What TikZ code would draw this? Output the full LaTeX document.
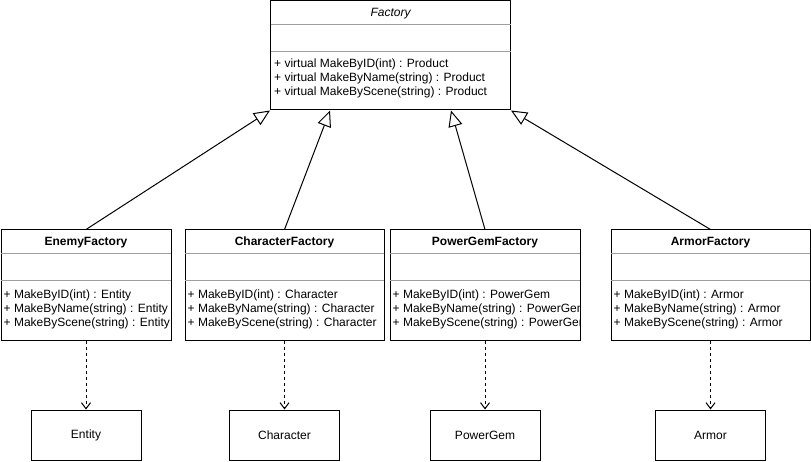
\documentclass[tikz,border=0pt]{standalone}
\usepackage{fontspec}
\setmainfont{Liberation Sans}
\usetikzlibrary{arrows.meta}
\newcommand{\umlfont}{\fontsize{12}{14}\selectfont}
\tikzset{>=stealth,
    class/.style={draw, line width=1pt, minimum height=110pt, inner sep=0pt},
    obj/.style={draw, line width=1pt, minimum width=110pt, minimum height=50pt},
    sep/.style={gray!75, line width=1pt},
    title/.style={anchor=base, inner sep=0pt, font=\umlfont\bfseries},
    ops/.style={anchor=north west, align=left, inner sep=0pt},
    inherit/.style={-{Triangle[open, length=16pt, width=14pt]}, line width=1pt},
    dep/.style={-{Straight Barb[length=6pt, width=9pt]}, line width=1pt, dash pattern=on 3pt off 3pt}}

\begin{document}
\begin{tikzpicture}[x=1pt, y=1pt, font=\umlfont]
    \useasboundingbox (0,0) rectangle (811,461);
    % base class
    \node[class, minimum width=240pt, minimum height=109pt] (fac) at (390.5,405.5) {};
    \node[title, font=\umlfont\itshape] (fac-t) at ([yshift=-16]fac.north) {Factory};
    \draw[sep] ([shift={(0.5,-24)}]fac.north west) -- ([shift={(-0.5,-24)}]fac.north east);
    \draw[sep] ([shift={(0.5,-51)}]fac.north west) -- ([shift={(-0.5,-51)}]fac.north east);
    \node[ops] (fac-o) at ([shift={(4,-58)}]fac.north west) {+ virtual MakeByID(int) : Product\\+ virtual MakeByName(string) : Product\\+ virtual MakeByScene(string) : Product};
    % concrete factories
    \node[class, minimum width=170pt] (ef) at (86,176) {};
    \node[title] (ef-t) at ([yshift=-16]ef.north) {EnemyFactory};
    \draw[sep] ([shift={(0.5,-24)}]ef.north west) -- ([shift={(-0.5,-24)}]ef.north east);
    \draw[sep] ([shift={(0.5,-51)}]ef.north west) -- ([shift={(-0.5,-51)}]ef.north east);
    \node[ops] (ef-o) at ([shift={(3,-60)}]ef.north west) {+ MakeByID(int) : Entity\\+ MakeByName(string) : Entity\\+ MakeByScene(string) : Entity};

    \node[class, minimum width=199pt] (cf) at (284.5,176) {};
    \node[title] (cf-t) at ([yshift=-16]cf.north) {CharacterFactory};
    \draw[sep] ([shift={(0.5,-24)}]cf.north west) -- ([shift={(-0.5,-24)}]cf.north east);
    \draw[sep] ([shift={(0.5,-51)}]cf.north west) -- ([shift={(-0.5,-51)}]cf.north east);
    \node[ops] (cf-o) at ([shift={(3,-60)}]cf.north west) {+ MakeByID(int) : Character\\+ MakeByName(string) : Character\\+ MakeByScene(string) : Character};

    \node[class, minimum width=190pt] (pf) at (485,176) {};
    \node[title] (pf-t) at ([yshift=-16]pf.north) {PowerGemFactory};
    \draw[sep] ([shift={(0.5,-24)}]pf.north west) -- ([shift={(-0.5,-24)}]pf.north east);
    \draw[sep] ([shift={(0.5,-51)}]pf.north west) -- ([shift={(-0.5,-51)}]pf.north east);
    \begin{scope}
        \clip ([shift={(0.5,-52)}]pf.north west) rectangle ([shift={(-0.5,0.5)}]pf.south east);
        \node[ops] (pf-o) at ([shift={(3,-60)}]pf.north west) {+ MakeByID(int) : PowerGem\\+ MakeByName(string) : PowerGem\\+ MakeByScene(string) : PowerGem};
    \end{scope}

    \node[class, minimum width=199pt] (af) at (710.5,176) {};
    \node[title] (af-t) at ([yshift=-16]af.north) {ArmorFactory};
    \draw[sep] ([shift={(0.5,-24)}]af.north west) -- ([shift={(-0.5,-24)}]af.north east);
    \draw[sep] ([shift={(0.5,-51)}]af.north west) -- ([shift={(-0.5,-51)}]af.north east);
    \node[ops] (af-o) at ([shift={(3,-60)}]af.north west) {+ MakeByID(int) : Armor\\+ MakeByName(string) : Armor\\+ MakeByScene(string) : Armor};
    % products
    \node[obj] (ent) at (86,26) {Entity};
    \node[obj] (chr) at (284.5,26) {Character};
    \node[obj] (gem) at (485,26) {PowerGem};
    \node[obj] (arm) at (710.5,26) {Armor};
    % inheritance
    \draw[inherit] (ef.north) -- (fac.south west);
    \draw[inherit] (cf.north) -- ([xshift=60]fac.south west);
    \draw[inherit] (pf.north) -- ([xshift=-60]fac.south east);
    \draw[inherit] (af.north) -- (fac.south east);
    % creates
    \draw[dep] (ef.south) -- (ent.north);
    \draw[dep] (cf.south) -- (chr.north);
    \draw[dep] (pf.south) -- (gem.north);
    \draw[dep] (af.south) -- (arm.north);
\end{tikzpicture}
\end{document}
